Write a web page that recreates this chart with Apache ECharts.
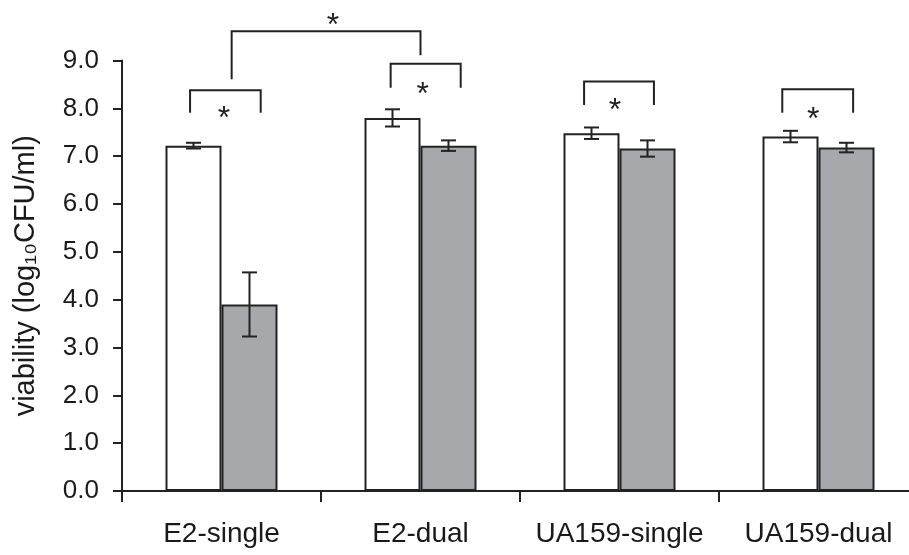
<!DOCTYPE html>
<html>
<head>
<meta charset="utf-8">
<script src="https://cdn.jsdelivr.net/npm/echarts@6/dist/echarts.min.js"></script>
<style>
html,body{margin:0;padding:0;background:#fff;overflow:hidden;}
#chart{width:918px;height:555px;}
</style>
</head>
<body>
<div id="chart"></div>
<script>
// ---- data ----
var categories = ['E2-single', 'E2-dual', 'UA159-single', 'UA159-dual'];
var whiteValues = [7.22, 7.80, 7.48, 7.41];
var whiteErrors = [0.06, 0.18, 0.12, 0.12];
var grayValues = [3.90, 7.22, 7.16, 7.18];
var grayErrors = [0.67, 0.11, 0.17, 0.10];
var yTicks = [0, 1, 2, 3, 4, 5, 6, 7, 8, 9];
// significance brackets: [xLeft, xRight, yTop, yLeftLegEnd, yRightLegEnd, xStar, yStar]
// x in category units (0..4), y in axis units
var brackets = [
  [0.342, 0.697, 8.38, 7.91, 7.91, 0.512, 7.93],
  [0.551, 1.500, 9.61, 8.61, 9.11, 1.060, 9.86],
  [1.350, 1.702, 8.93, 8.43, 8.43, 1.511, 8.42],
  [2.322, 2.673, 8.56, 8.07, 8.07, 2.477, 8.08],
  [3.318, 3.674, 8.40, 7.91, 7.91, 3.474, 7.90]
];

var BAR_W = 56;
var INK = '#222';

var errData = [];
for (var i = 0; i < categories.length; i++) {
  errData.push([i, whiteValues[i], whiteErrors[i], 0]);
  errData.push([i, grayValues[i], grayErrors[i], 1]);
}

var chart = echarts.init(document.getElementById('chart'));
var option = {
  animation: false,
  backgroundColor: '#fff',
  textStyle: {fontFamily: 'Liberation Sans, Arial, sans-serif'},
  grid: {left: 122, top: 60.5, right: 0, bottom: 64, containLabel: false},
  xAxis: [{
    type: 'category',
    data: categories,
    boundaryGap: true,
    axisLine: {show: true, lineStyle: {color: INK, width: 2}},
    axisTick: {show: true, alignWithLabel: false, interval: 0, length: 11, lineStyle: {color: INK, width: 2}},
    axisLabel: {color: '#1a1a1a', fontSize: 28, margin: 29, interval: 0, fontFamily: 'Liberation Sans'},
    splitLine: {show: false}
  }, {
    type: 'value',
    min: 0, max: 4,
    show: false
  }],
  yAxis: {
    type: 'value',
    min: yTicks[0], max: yTicks[yTicks.length - 1], interval: 1,
    name: 'viability (log\u2081\u2080CFU/ml)',
    nameLocation: 'middle',
    nameRotate: 90,
    nameGap: 82,
    nameTextStyle: {color: '#1a1a1a', fontSize: 29, fontFamily: 'Liberation Sans'},
    axisLine: {show: true, lineStyle: {color: INK, width: 2}},
    axisTick: {show: true, inside: false, length: 9, lineStyle: {color: INK, width: 2}},
    axisLabel: {color: '#1a1a1a', fontSize: 26, margin: 23, fontFamily: 'Liberation Sans',
      formatter: function (v) { return v.toFixed(1); }},
    splitLine: {show: false}
  },
  series: [{
    type: 'bar',
    name: 'white',
    data: whiteValues,
    barWidth: BAR_W,
    barGap: '0%',
    itemStyle: {color: '#ffffff', borderColor: INK, borderWidth: 2}
  }, {
    type: 'bar',
    name: 'gray',
    data: grayValues,
    barWidth: BAR_W,
    barGap: '0%',
    itemStyle: {color: '#a7a8ac', borderColor: INK, borderWidth: 2}
  }, {
    type: 'custom',
    name: 'errors',
    data: errData,
    z: 10,
    renderItem: function (params, api) {
      var cat = api.value(0), v = api.value(1), e = api.value(2), slot = api.value(3);
      var dx = slot === 0 ? -BAR_W / 2 : BAR_W / 2;
      var hi = api.coord([cat, v + e]);
      var lo = api.coord([cat, v - e]);
      var x = hi[0] + dx;
      var cw = 7.5;
      var st = {stroke: INK, lineWidth: 2, fill: null};
      return {type: 'group', children: [
        {type: 'line', shape: {x1: x, y1: hi[1], x2: x, y2: lo[1]}, style: st},
        {type: 'line', shape: {x1: x - cw, y1: hi[1], x2: x + cw, y2: hi[1]}, style: st},
        {type: 'line', shape: {x1: x - cw, y1: lo[1], x2: x + cw, y2: lo[1]}, style: st}
      ]};
    }
  }, {
    type: 'custom',
    name: 'brackets',
    xAxisIndex: 1,
    yAxisIndex: 0,
    clip: false,
    data: brackets,
    z: 10,
    renderItem: function (params, api) {
      var a = api.coord([api.value(0), api.value(2)]);
      var b = api.coord([api.value(1), api.value(2)]);
      var la = api.coord([api.value(0), api.value(3)]);
      var rb = api.coord([api.value(1), api.value(4)]);
      var s = api.coord([api.value(5), api.value(6)]);
      var st = {stroke: INK, lineWidth: 2, fill: null};
      return {type: 'group', children: [
        {type: 'polyline', shape: {points: [la, a, b, rb]}, style: st},
        {type: 'text', style: {text: '*', x: s[0], y: s[1] + 7, fill: INK, fontSize: 32,
          fontFamily: 'Liberation Sans', align: 'center', verticalAlign: 'middle'}}
      ]};
    }
  }]
};
chart.setOption(option);
</script>
</body>
</html>
